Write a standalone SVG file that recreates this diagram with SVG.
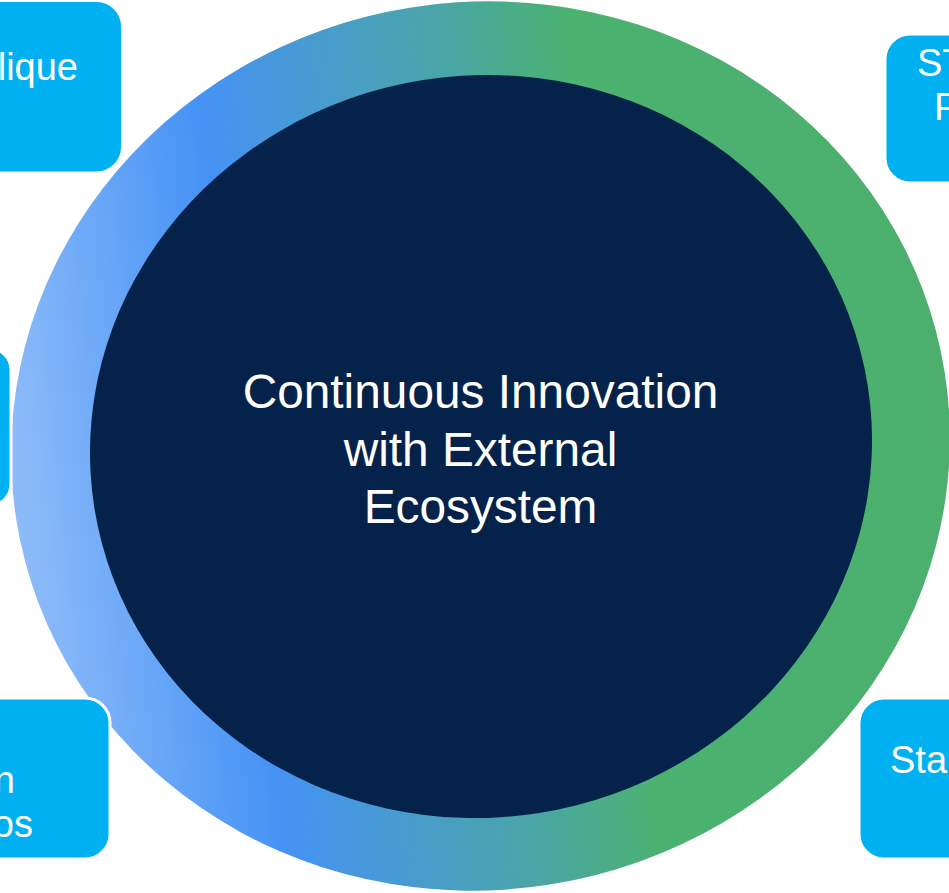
<svg xmlns="http://www.w3.org/2000/svg" width="949" height="893" viewBox="0 0 949 893">
  <defs>
    <linearGradient id="ring" gradientUnits="userSpaceOnUse" x1="12" y1="446" x2="946" y2="341" gradientTransform="rotate(9 480.5 446)">
      <stop offset="0" stop-color="#8dbbf9"/>
      <stop offset="0.24" stop-color="#4592f5"/>
      <stop offset="0.5" stop-color="#4aa5a8"/>
      <stop offset="0.64" stop-color="#4bb270"/>
      <stop offset="1" stop-color="#4caf6e"/>
    </linearGradient>
  </defs>
  <style>
    .box { fill: #00b0f0; stroke: #ffffff; stroke-width: 3; }
    .boxtxt { font-family: "Liberation Sans", Arial, sans-serif; font-size: 38px; fill: #ffffff; }
    .center { font-family: "Liberation Sans", Arial, sans-serif; font-size: 47.8px; fill: #ffffff; text-anchor: middle; }
  </style>
  <rect width="949" height="893" fill="#ffffff"/>

  <g id="hub">
    <ellipse cx="480.5" cy="446" rx="470" ry="444" fill="url(#ring)" transform="rotate(-9 480.5 446)"/>
    <ellipse cx="481" cy="446.5" rx="391.5" ry="371" fill="#05234a" transform="rotate(-9 481 446.5)"/>
    <text class="center" x="480.5" y="408">Continuous Innovation</text>
    <text class="center" x="480.5" y="465.5">with External</text>
    <text class="center" x="480.5" y="523">Ecosystem</text>
  </g>

  <g id="connectors"></g>

  <g id="node-top-left">
    <rect class="box" x="-140" y="0.5" width="262.5" height="172.5" rx="26"/>
    <text class="boxtxt" x="78" y="80" text-anchor="end">lique</text>
  </g>

  <g id="node-mid-left">
    <rect class="box" x="-200" y="348" width="211" height="158" rx="22"/>
  </g>

  <g id="node-bottom-left">
    <rect class="box" x="-150" y="698" width="260" height="161" rx="25"/>
    <text class="boxtxt" x="15" y="793" text-anchor="end">n</text>
    <text class="boxtxt" x="33" y="837" text-anchor="end">os</text>
  </g>

  <g id="node-top-right">
    <rect class="box" x="885" y="34" width="200" height="149" rx="25"/>
    <text class="boxtxt" x="917" y="76">ST</text>
    <text class="boxtxt" x="934" y="120">P</text>
  </g>

  <g id="node-bottom-right">
    <rect class="box" x="859" y="698" width="200" height="161" rx="25"/>
    <text class="boxtxt" x="890" y="773">Sta</text>
  </g>
</svg>
